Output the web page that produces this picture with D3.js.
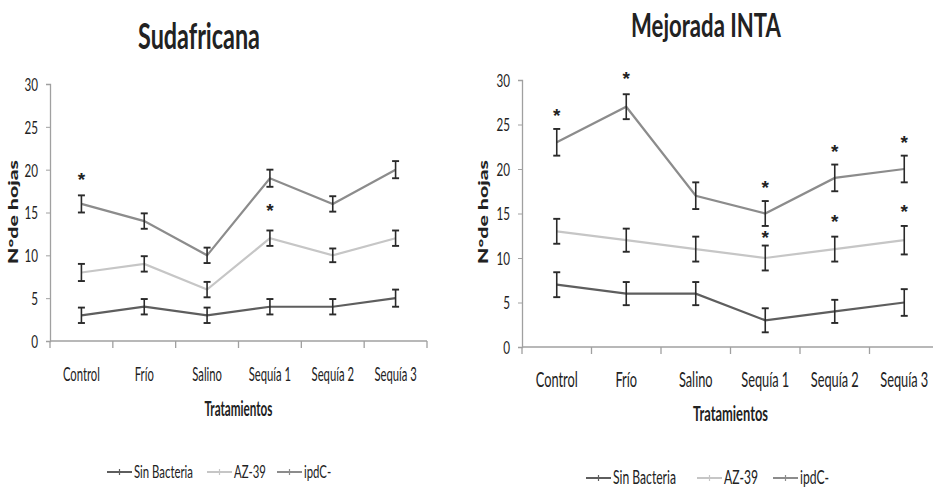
<!DOCTYPE html>
<html><head><meta charset="utf-8">
<script src="https://cdn.jsdelivr.net/npm/d3@7"></script>
<style>
html,body{margin:0;padding:0;background:#fff;}
svg{display:block;}
text{font-family:Lato,"Open Sans","Liberation Sans",sans-serif;fill:#222;}
</style></head><body>
<svg id="c" width="933" height="487"></svg>
<script>
const categories = ["Control","Frío","Salino","Sequía 1","Sequía 2","Sequía 3"];
const seriesNames = ["Sin Bacteria","AZ-39","ipdC-"];
const yTicks = [0,5,10,15,20,25,30];

// Sudafricana
const sudSin   = [3,4,3,4,4,5];
const sudSinErr= [0.9,0.9,0.9,0.9,0.9,1.0];
const sudAz    = [8,9,6,12,10,12];
const sudAzErr = [1.0,0.9,0.9,0.9,0.8,0.9];
const sudIpd   = [16,14,10,19,16,20];
const sudIpdErr= [1.0,0.9,0.9,1.0,0.9,1.0];
const sudStars = [[0,19.3],[3,15.7]];

// Mejorada INTA
const mejSin   = [7,6,6,3,4,5];
const mejSinErr= [1.4,1.3,1.3,1.35,1.3,1.5];
const mejAz    = [13,12,11,10,11,12];
const mejAzErr = [1.4,1.3,1.4,1.4,1.4,1.6];
const mejIpd   = [23,27,17,15,19,20];
const mejIpdErr= [1.5,1.4,1.5,1.4,1.5,1.5];
const mejStars = [[0,26.4],[1,30.6],[3,18.3],[4,22.4],[5,23.4],[3,12.7],[4,14.5],[5,15.6]];

const colors = {"Sin Bacteria":"#5e5e5e","AZ-39":"#c6c6c6","ipdC-":"#8c8c8c"};
const svg = d3.select("#c");

// horizontally condense text nodes via transform; k = targetW / width(first node)
function condense(sel, targetW, rot){
  const nodes = sel.nodes();
  if(!nodes.length) return;
  const k = targetW / nodes[0].getComputedTextLength();
  nodes.forEach(n=>{
    const x = +n.getAttribute("x") || 0, y = +n.getAttribute("y") || 0;
    n.setAttribute("x",0); n.setAttribute("y",0);
    n.setAttribute("transform", `translate(${x},${y}) ${rot?`rotate(${rot})`:""} scale(${k.toFixed(4)},1)`);
  });
}

function panel(cfg){
  const g = svg.append("g");
  const x = d3.scaleBand().domain(categories).range([cfg.x0,cfg.x1]);
  const y = d3.scaleLinear().domain([0,30]).range([cfg.y0,cfg.y1]);
  const cx = c => x(c)+x.bandwidth()/2;

  // y axis
  const ya = g.append("g").attr("transform",`translate(${cfg.x0},0)`)
    .call(d3.axisLeft(y).tickValues(yTicks).tickSize(4).tickPadding(8).tickFormat(d3.format("d")));
  ya.attr("font-family",null);
  ya.select(".domain").attr("stroke","#a0a0a0").attr("stroke-width",1.3);
  ya.selectAll(".tick line").attr("stroke","#a0a0a0");
  ya.selectAll(".tick text").style("font-size","18px").attr("fill","#1e1e1e")
    .attr("dy","0.36em").style("font-family","Lato,sans-serif");
  condense(ya.selectAll(".tick text").filter(d=>d<10), 6.8);
  condense(ya.selectAll(".tick text").filter(d=>d>=10), 13.5);

  // x axis line and boundary ticks
  g.append("line").attr("x1",cfg.x0).attr("x2",cfg.x1).attr("y1",y(0)).attr("y2",y(0))
    .attr("stroke","#a0a0a0").attr("stroke-width",1.3);
  const bounds = categories.map(c=>x(c)).concat([cfg.x1]);
  g.selectAll(".bt").data(bounds).enter().append("line")
    .attr("x1",d=>d).attr("x2",d=>d).attr("y1",y(0)).attr("y2",y(0)+7)
    .attr("stroke","#a0a0a0").attr("stroke-width",1.3);
  const xl = g.selectAll(".xl").data(categories).enter().append("text")
    .attr("x",d=>cx(d)).attr("y",cfg.xLabelY).attr("text-anchor","middle")
    .style("font-size",cfg.xFont+"px").text(d=>d);
  condense(xl, cfg.controlW);

  // axis titles
  const xt = g.append("text").attr("x",(cfg.x0+cfg.x1)/2).attr("y",cfg.xTitleY).attr("text-anchor","middle")
    .style("font-size",cfg.xFont+"px").style("font-weight","bold").text("Tratamientos");
  condense(xt, cfg.tratW);
  const ytl = g.append("text").attr("x",cfg.yTitleX).attr("y",cfg.yTitleY)
    .attr("text-anchor","middle").style("font-size","14px").style("font-weight","900")
    .text("N°de hojas");
  condense(ytl, 104, -90);

  // title
  const tt = g.append("text").attr("x",cfg.titleX).attr("y",cfg.titleY).attr("text-anchor","middle")
    .style("font-size",cfg.titleSize+"px").style("font-weight","bold")
    .attr("fill","#111").text(cfg.title);
  condense(tt, cfg.titleW);

  // series
  const line = d3.line().x((d,i)=>cx(categories[i])).y(d=>y(d));
  const series = [
    {name:"Sin Bacteria",v:cfg.sin,e:cfg.sinErr},
    {name:"ipdC-",v:cfg.ipd,e:cfg.ipdErr},
    {name:"AZ-39",v:cfg.az,e:cfg.azErr}
  ];
  series.forEach(s=>{
    g.append("path").datum(s.v).attr("d",line).attr("fill","none")
      .attr("stroke",colors[s.name]).attr("stroke-width",2.2);
  });
  series.forEach(s=>{
    const eg = g.append("g");
    s.v.forEach((v,i)=>{
      const px = cx(categories[i]);
      const t = y(v+s.e[i]), b = y(v-s.e[i]);
      eg.append("line").attr("x1",px).attr("x2",px).attr("y1",t).attr("y2",b)
        .attr("stroke","#2a2a2a").attr("stroke-width",1.6);
      [t,b].forEach(yy=>eg.append("line").attr("x1",px-3.5).attr("x2",px+3.5)
        .attr("y1",yy).attr("y2",yy).attr("stroke","#2a2a2a").attr("stroke-width",1.9));
    });
  });

  // stars
  g.selectAll(".star").data(cfg.stars).enter().append("text")
    .attr("x",d=>cx(categories[d[0]])).attr("y",d=>y(d[1])+10)
    .attr("text-anchor","middle").style("font-size","19px").style("font-weight","bold")
    .attr("fill","#1a1a2a")
    .style("font-family",'"Liberation Sans",sans-serif').text("*");

  // legend
  const lt = [];
  seriesNames.forEach((n,i)=>{
    const lx = cfg.legX[i], ly = cfg.legY;
    g.append("line").attr("x1",lx).attr("x2",lx+25).attr("y1",ly).attr("y2",ly)
      .attr("stroke",colors[n]).attr("stroke-width",2);
    g.append("line").attr("x1",lx+12.5).attr("x2",lx+12.5).attr("y1",ly-3).attr("y2",ly+3)
      .attr("stroke",colors[n]).attr("stroke-width",1.2);
    lt.push(g.append("text").attr("x",lx+27).attr("y",ly+6).style("font-size",cfg.legFont+"px").text(n).node());
  });
  condense(d3.selectAll(lt), cfg.sinW);
}

panel({x0:50,x1:427,y0:341,y1:84,xLabelY:381,xTitleY:416,yTitleX:18,yTitleY:212,
  controlW:37,tratW:68,sinW:59,legFont:18,xFont:20,
  title:"Sudafricana",titleX:199,titleY:49,titleSize:36,titleW:122,
  sin:sudSin,sinErr:sudSinErr,az:sudAz,azErr:sudAzErr,ipd:sudIpd,ipdErr:sudIpdErr,stars:sudStars,
  legX:[107,207,277],legY:472});
panel({x0:522,x1:939,y0:347,y1:80,xLabelY:387,xTitleY:421,yTitleX:488,yTitleY:212,
  controlW:42,tratW:75,sinW:63,legFont:19,xFont:21,
  title:"Mejorada INTA",titleX:706,titleY:37,titleSize:32,titleW:150,
  sin:mejSin,sinErr:mejSinErr,az:mejAz,azErr:mejAzErr,ipd:mejIpd,ipdErr:mejIpdErr,stars:mejStars,
  legX:[586,697,773],legY:478});
</script></body></html>
